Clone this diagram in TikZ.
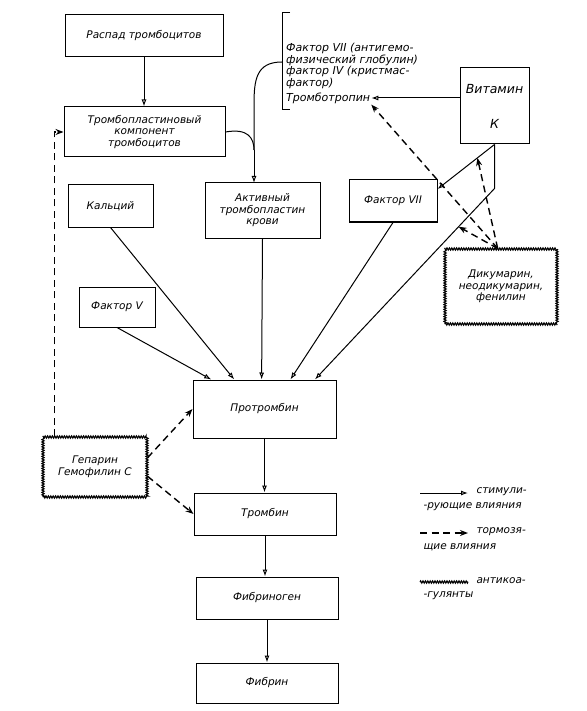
\documentclass[tikz,border=0pt]{standalone}
\usepackage{fontspec}
\setmainfont{DejaVu Sans}
\usepackage{tikz}
\usetikzlibrary{calc,arrows.meta,decorations.pathmorphing}

\begin{document}
\begin{tikzpicture}[x=1pt,y=-1pt,
  every node/.style={font=\itshape\fontsize{10.5}{11.5}\selectfont},
  box/.style 2 args={draw,line width=1pt,align=center,inner sep=2pt,minimum width=#1,minimum height=#2},
  antico/.style={draw,line width=1.1pt,decorate,decoration={zigzag,segment length=2.4pt,amplitude=1.1pt}},
  stim/.style={line width=1pt,-{Latex[open,length=7pt,width=5pt]}},
  inh/.style={line width=1.4pt,dash pattern=on 7pt off 4.5pt,-{Stealth[length=8pt,width=6pt]}}]
\useasboundingbox (0,0) rectangle (586,711);
\node[box={158}{42}] (raspad) at (144,36) {Распад тромбоцитов};
\node[box={161}{50}] (komp) at (144.5,132) {Тромбопластиновый\\компонент\\тромбоцитов};
\node[box={115}{55}] (aktiv) at (262.5,210.5) {Активный\\тромбопластин\\крови};
\node[box={85}{42}] (kalc) at (110.5,206) {Кальций};
\node[box={76}{40}] (fv) at (117,307) {Фактор V};
\node[box={88}{42}] (fvii) at (393,201) {Фактор VII};
\node[box={69}{76},font=\itshape\fontsize{12.5}{13}\selectfont] (vitk) at (494.5,106) {Витамин\\[22pt]К};
\node[box={112}{75},antico] (dikum) at (501,286.5) {Дикумарин,\\неодикумарин,\\фенилин};
\node[box={143}{58}] (protr) at (264.5,409) {Протромбин};
\node[box={104}{60},antico] (geparin) at (95,467) {Гепарин\\Гемофилин С};
\node[box={142}{42}] (tromb) at (265,514) {Тромбин};
\node[box={142}{42}] (fibrinogen) at (267,598) {Фибриноген};
\node[box={142}{40}] (fibrin) at (267,683) {Фибрин};
\draw[line width=1pt] (290,13) -- (282,13) -- (282,110) -- (290,110);
\node[anchor=north west,align=left,inner sep=0pt,font=\itshape\fontsize{11}{11.5}\selectfont] (fakt) at (286,43) {Фактор VII (антигемо-\\физический глобулин)\\фактор IV (кристмас-\\фактор)};
\node[anchor=west,inner sep=1pt,font=\itshape\fontsize{11}{11.5}\selectfont] (ttr) at (285,98) {Тромботропин};
\coordinate (brk) at (282,62);
\coordinate (jn) at (254,150);
\coordinate (jt) at (254,183);
\draw[line width=1pt] (brk) .. controls (256,62) and (254,80) .. (254,105) -- (jn);
\draw[line width=1pt] (komp.east) .. controls (248,128) and (254,138) .. (jn);
\draw[stim] (jn) -- (jt);
\draw[stim] (raspad.south) -- (raspad.south |- komp.north);
\foreach \src/\t in {fv/.13,kalc/.29,aktiv/.48,fvii/.68}{\draw[stim] (\src.south) -- ($(protr.north west)!\t!(protr.north east)$);}
\draw[stim] (ttr.east -| vitk.west) -- (ttr.east);
\draw[stim] (vitk.south) -- coordinate[pos=.3] (vk1) (fvii.15);
\draw[stim] (vitk.south) -- ++(0,44) -- coordinate[pos=.2] (vk2) ($(protr.north west)!.85!(protr.north east)$);
\foreach \a/\b in {protr/tromb,tromb/fibrinogen,fibrinogen/fibrin}{\draw[stim] (\a.south) -- (\a.south |- \b.north);}
\draw[inh] (dikum.95) -- (ttr.south east);
\draw[inh] (dikum.95) -- (vk1);
\draw[inh] (dikum.95) -- (vk2);
\draw[inh] ([xshift=12pt]geparin.north west) |- (komp.west);
\draw[inh] (geparin.10) -- (protr.west);
\draw[inh] (geparin.-10) -- (tromb.west);
\foreach \y/\st/\ta/\tb [count=\i] in {493/stim/стимули-/-рующие влияния,533/inh/тормозя-/щие влияния,582/antico/антикоа-/-гулянты}{
  \coordinate (la\i) at (420,\y); \coordinate (lb\i) at (468,\y);
  \draw[\st] (la\i) -- (lb\i);
  \node[anchor=west] (lt\i) at (473,\y-1) {\ta};
  \node[anchor=west] (lu\i) at (420,\y+14) {\tb};
}
\end{tikzpicture}
\end{document}
